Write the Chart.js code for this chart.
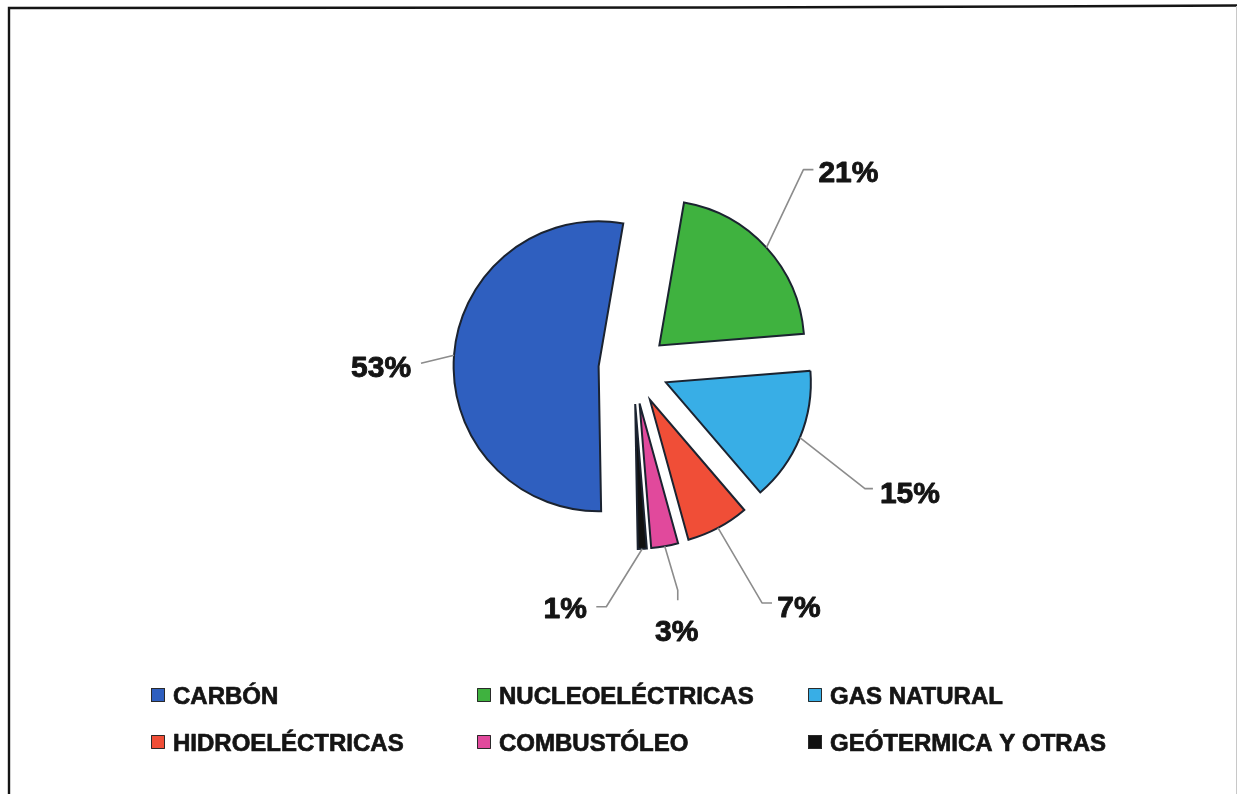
<!DOCTYPE html>
<html>
<head>
<meta charset="utf-8">
<script src="https://cdn.jsdelivr.net/npm/chart.js@4.4.1/dist/chart.umd.min.js"></script>
<style>
  html, body { margin: 0; padding: 0; background: #ffffff; overflow: hidden; }
  canvas { display: block; }
</style>
</head>
<body>
<canvas id="chart" width="1237" height="794"></canvas>
<script>
// Generation mix by source (percent of total)
const categories = ['CARBÓN', 'NUCLEOELÉCTRICAS', 'GAS NATURAL', 'HIDROELÉCTRICAS', 'COMBUSTÓLEO', 'GEÓTERMICA Y OTRAS'];
const shares = [53, 21, 15, 7, 3, 1];
const sliceColors = ['#2F5FBF', '#3FB23F', '#38AEE6', '#F04E37', '#E1499C', '#111111'];

// Distance each slice is pulled out from the centre, in px
const EXPLODE_PX = 35;

// Leader line bends and label centres, relative to the outer mid-point of each exploded slice
const labelLayout = [
  { pts: [[-33, 8]], text: [-73, 11] },
  { pts: [[37, -78], [47, -78]], text: [82, -76] },
  { pts: [[65, 51], [73, 51]], text: [110, 55] },
  { pts: [[44, 75], [54, 75]], text: [81, 79] },
  { pts: [[13, 44], [13, 54]], text: [12, 84] },
  { pts: [[-36, 58], [-46, 58]], text: [-77, 59] }
];

// Legend grid (3 columns x 2 rows)
const legendCols = [151, 477, 808];
const legendRows = [695, 742];

const FONT = '"Liberation Sans", Arial, Helvetica, sans-serif';

// Pull every arc outward along its bisector before the library paints it
const ArcEl = Chart.ArcElement || Chart.elements.ArcElement;
const baseArcDraw = ArcEl.prototype.draw;
ArcEl.prototype.draw = function (ctx, area) {
  const mid = (this.startAngle + this.endAngle) / 2;
  ctx.save();
  ctx.translate(Math.cos(mid) * EXPLODE_PX, Math.sin(mid) * EXPLODE_PX);
  baseArcDraw.call(this, ctx, area);
  ctx.restore();
};

// Heavy text: fill plus a thin outline of the same colour
function heavyText(ctx, str, x, y, weight) {
  ctx.lineWidth = weight;
  ctx.lineJoin = 'round';
  ctx.strokeStyle = ctx.fillStyle;
  ctx.strokeText(str, x, y);
  ctx.fillText(str, x, y);
}

const framePlugin = {
  id: 'frame',
  beforeDraw(chart) {
    const ctx = chart.ctx;
    ctx.save();
    ctx.fillStyle = '#ffffff';
    ctx.fillRect(0, 0, chart.width, chart.height);
    ctx.strokeStyle = '#151515';
    ctx.lineWidth = 2.4;
    ctx.beginPath();
    ctx.moveTo(9, chart.height + 2);
    ctx.lineTo(9, 8);
    ctx.lineTo(720, 7.5);
    ctx.lineTo(1030, 6.5);
    ctx.lineTo(1237, 5.5);
    ctx.stroke();
    ctx.strokeStyle = '#c8c8c8';
    ctx.lineWidth = 1;
    ctx.beginPath();
    ctx.moveTo(1236.5, 6);
    ctx.lineTo(1236.5, chart.height);
    ctx.stroke();
    ctx.restore();
  }
};

const sliceLabelPlugin = {
  id: 'sliceLabels',
  afterDatasetsDraw(chart) {
    const ctx = chart.ctx;
    const meta = chart.getDatasetMeta(0);
    const values = chart.data.datasets[0].data;
    ctx.save();
    meta.data.forEach((arc, i) => {
      const mid = (arc.startAngle + arc.endAngle) / 2;
      const reach = arc.outerRadius + EXPLODE_PX;
      const ax = arc.x + Math.cos(mid) * reach;
      const ay = arc.y + Math.sin(mid) * reach;
      const lay = labelLayout[i];
      ctx.strokeStyle = '#8c8c8c';
      ctx.lineWidth = 1.6;
      ctx.beginPath();
      ctx.moveTo(ax, ay);
      lay.pts.forEach(p => ctx.lineTo(ax + p[0], ay + p[1]));
      ctx.stroke();
      ctx.fillStyle = '#141414';
      ctx.font = 'bold 30px ' + FONT;
      ctx.textAlign = 'center';
      ctx.textBaseline = 'alphabetic';
      heavyText(ctx, values[i] + '%', ax + lay.text[0], ay + lay.text[1] + 10.5, 0.9);
    });
    ctx.restore();
  }
};

const gridLegendPlugin = {
  id: 'gridLegend',
  afterDraw(chart) {
    const ctx = chart.ctx;
    const labels = chart.data.labels;
    const colors = chart.data.datasets[0].backgroundColor;
    ctx.save();
    labels.forEach((name, i) => {
      const x = legendCols[i % 3];
      const y = legendRows[Math.floor(i / 3)];
      ctx.fillStyle = colors[i];
      ctx.fillRect(x, y - 7, 14, 14);
      ctx.strokeStyle = '#2a2a2a';
      ctx.lineWidth = 1;
      ctx.strokeRect(x + 0.5, y - 6.5, 13, 13);
      ctx.fillStyle = '#141414';
      ctx.font = 'bold 24px ' + FONT;
      ctx.textAlign = 'left';
      ctx.textBaseline = 'alphabetic';
      heavyText(ctx, name, x + 22, y + 8.6, 0.7);
    });
    ctx.restore();
  }
};

new Chart(document.getElementById('chart'), {
  type: 'pie',
  data: {
    labels: categories,
    datasets: [{
      data: shares,
      backgroundColor: sliceColors,
      borderColor: '#1b2330',
      borderWidth: 2,
      borderJoinStyle: 'miter'
    }]
  },
  options: {
    responsive: false,
    animation: false,
    rotation: 179,
    radius: 145,
    layout: { padding: { left: 130, right: 100, top: 40, bottom: 96 } },
    plugins: {
      legend: { display: false },
      tooltip: { enabled: false },
      title: { display: false }
    },
    events: []
  },
  plugins: [framePlugin, sliceLabelPlugin, gridLegendPlugin]
});
</script>
</body>
</html>
